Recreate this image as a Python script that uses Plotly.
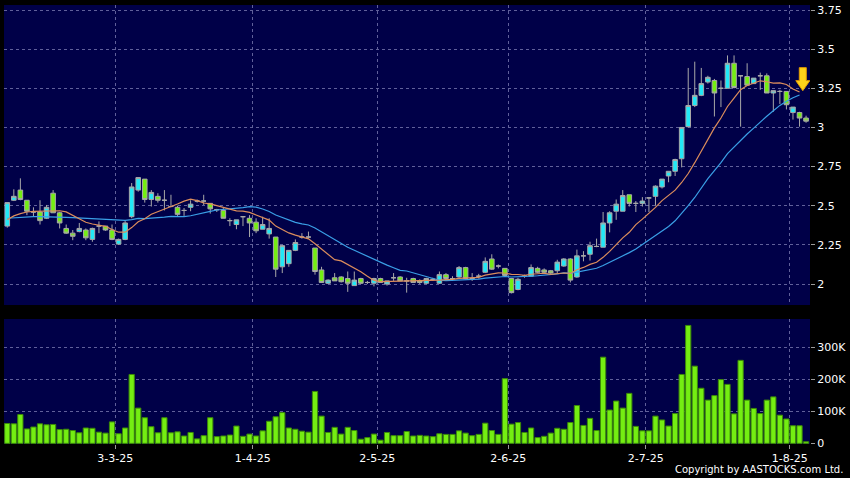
import numpy as np
import pandas as pd
import plotly.graph_objects as go
from plotly.subplots import make_subplots

# ---------------- data ----------------
hk_holidays = ["2025-04-04", "2025-04-18", "2025-04-21", "2025-05-01", "2025-05-05", "2025-07-01"]
dates = pd.bdate_range("2025-02-06", "2025-08-05", freq="C", holidays=hk_holidays)

open_ = [2.37, 2.535, 2.60, 2.535, 2.46, 2.46, 2.42, 2.58, 2.455, 2.355,
         2.325, 2.335, 2.345, 2.285, 2.37, 2.37, 2.345, 2.255, 2.285, 2.43,
         2.60, 2.67, 2.54, 2.56, 2.535, 2.495, 2.49, 2.47, 2.49, 2.53,
         2.53, 2.515, 2.475, 2.47, 2.405, 2.38, 2.43, 2.42, 2.395, 2.35,
         2.32, 2.30, 2.11, 2.13, 2.215, 2.30, 2.30, 2.23, 2.09, 2.005,
         2.04, 2.045, 2.035, 1.99, 2.035, 2.01, 2.005, 2.035, 2.0, 2.04,
         2.045, 2.02, 2.035, 2.02, 2.005, 2.03, 2.005, 2.06, 2.035, 2.045,
         2.105, 2.035, 2.05, 2.075, 2.16, 2.115, 2.10, 2.035, 1.965, 2.05,
         2.05, 2.10, 2.09, 2.085, 2.085, 2.115, 2.16, 2.045, 2.18, 2.19,
         2.24, 2.235, 2.39, 2.465, 2.465, 2.57, 2.515, 2.515, 2.55, 2.56,
         2.62, 2.69, 2.72, 2.80, 3.005, 3.14, 3.205, 3.29, 3.30, 3.25,
         3.25, 3.41, 3.33, 3.325, 3.28, 3.33, 3.33, 3.22, 3.23, 3.23,
         3.095, 3.095, 3.06]
high = [2.52, 2.605, 2.675, 2.535, 2.49, 2.535, 2.505, 2.60, 2.46, 2.38,
        2.345, 2.39, 2.355, 2.36, 2.40, 2.37, 2.38, 2.29, 2.405, 2.645,
        2.68, 2.67, 2.60, 2.58, 2.60, 2.57, 2.50, 2.485, 2.535, 2.54,
        2.57, 2.515, 2.48, 2.485, 2.42, 2.41, 2.43, 2.44, 2.42, 2.43,
        2.42, 2.30, 2.25, 2.215, 2.285, 2.325, 2.335, 2.23, 2.11, 2.03,
        2.07, 2.05, 2.08, 2.08, 2.04, 2.02, 2.04, 2.04, 2.02, 2.07,
        2.05, 2.04, 2.04, 2.03, 2.04, 2.04, 2.08, 2.07, 2.05, 2.115,
        2.11, 2.07, 2.065, 2.17, 2.19, 2.125, 2.10, 2.035, 2.04, 2.06,
        2.125, 2.11, 2.10, 2.09, 2.155, 2.165, 2.165, 2.22, 2.21, 2.27,
        2.29, 2.46, 2.465, 2.54, 2.60, 2.57, 2.53, 2.555, 2.55, 2.63,
        2.67, 2.72, 2.80, 3.0, 3.38, 3.42, 3.38, 3.33, 3.31, 3.30,
        3.46, 3.46, 3.33, 3.41, 3.315, 3.35, 3.345, 3.235, 3.24, 3.23,
        3.13, 3.10, 3.075]
low = [2.36, 2.53, 2.535, 2.44, 2.43, 2.38, 2.415, 2.455, 2.355, 2.32,
       2.28, 2.33, 2.28, 2.27, 2.325, 2.34, 2.28, 2.25, 2.28, 2.42,
       2.59, 2.52, 2.495, 2.52, 2.47, 2.49, 2.435, 2.435, 2.465, 2.52,
       2.505, 2.45, 2.46, 2.42, 2.37, 2.35, 2.37, 2.30, 2.325, 2.35,
       2.29, 2.045, 2.07, 2.11, 2.21, 2.29, 2.29, 2.06, 2.01, 2.0,
       2.02, 2.01, 1.95, 1.99, 2.0, 2.0, 1.985, 2.01, 1.99, 2.02,
       2.02, 1.945, 2.01, 2.0, 2.0, 2.02, 2.0, 2.035, 2.02, 2.04,
       2.03, 2.02, 2.035, 2.07, 2.09, 2.10, 2.05, 1.94, 1.96, 2.04,
       2.05, 2.07, 2.07, 2.06, 2.07, 2.11, 2.01, 2.04, 2.145, 2.15,
       2.235, 2.235, 2.33, 2.41, 2.465, 2.495, 2.46, 2.495, 2.46, 2.50,
       2.61, 2.65, 2.69, 2.745, 3.0, 3.13, 3.20, 3.28, 3.07, 3.13,
       3.25, 3.25, 3.005, 3.27, 3.28, 3.24, 3.22, 3.10, 3.15, 3.115,
       3.05, 3.005, 3.03]
close = [2.52, 2.56, 2.54, 2.465, 2.46, 2.405, 2.49, 2.455, 2.39, 2.325,
         2.305, 2.355, 2.295, 2.355, 2.37, 2.345, 2.285, 2.285, 2.39, 2.62,
         2.68, 2.54, 2.585, 2.535, 2.535, 2.495, 2.445, 2.47, 2.51, 2.53,
         2.53, 2.48, 2.475, 2.42, 2.405, 2.41, 2.43, 2.39, 2.34, 2.38,
         2.355, 2.095, 2.245, 2.215, 2.265, 2.30, 2.30, 2.08, 2.01, 2.025,
         2.02, 2.015, 2.005, 2.025, 2.005, 2.01, 2.035, 2.01, 2.02, 2.04,
         2.02, 2.02, 2.01, 2.01, 2.035, 2.03, 2.06, 2.035, 2.035, 2.105,
         2.035, 2.035, 2.05, 2.145, 2.095, 2.115, 2.055, 1.945, 2.03, 2.05,
         2.105, 2.075, 2.075, 2.07, 2.14, 2.16, 2.025, 2.18, 2.18, 2.245,
         2.24, 2.39, 2.455, 2.51, 2.565, 2.515, 2.515, 2.53, 2.55, 2.625,
         2.67, 2.72, 2.795, 3.0, 3.14, 3.205, 3.28, 3.32, 3.22, 3.25,
         3.41, 3.255, 3.33, 3.27, 3.315, 3.33, 3.22, 3.235, 3.23, 3.145,
         3.13, 3.06, 3.04]
volume_k = [62, 61, 90, 45, 51, 61, 58, 59, 43, 44,
            40, 33, 48, 47, 35, 32, 67, 30, 48, 215,
            110, 80, 52, 33, 80, 33, 36, 23, 34, 14,
            24, 80, 21, 23, 26, 54, 22, 29, 23, 39,
            69, 83, 96, 48, 44, 38, 35, 162, 85, 34,
            50, 29, 50, 40, 13, 18, 29, 10, 34, 24,
            24, 37, 23, 25, 23, 21, 30, 28, 28, 39,
            32, 24, 28, 63, 40, 28, 202, 60, 65, 34,
            48, 18, 22, 32, 47, 44, 65, 118, 56, 78,
            40, 269, 104, 132, 110, 156, 53, 39, 39, 85,
            73, 54, 93, 215, 368, 241, 172, 135, 149, 199,
            184, 92, 259, 135, 109, 93, 135, 145, 88, 76,
            55, 55, 5]
# moving-average values at the left edge (their window starts before the chart)
ma10_head = [2.41, 2.435, 2.45, 2.46, 2.464, 2.464, 2.465, 2.468, 2.468]
ma20_head = [2.42, 2.423, 2.425, 2.428, 2.43, 2.43, 2.43, 2.43, 2.428, 2.426,
             2.424, 2.422, 2.42, 2.418, 2.415, 2.413, 2.41, 2.408, 2.406]
tick_dates = ["2025-03-03", "2025-04-01", "2025-05-02", "2025-06-02", "2025-07-02", "2025-08-01"]
tick_text = ["3-3-25", "1-4-25", "2-5-25", "2-6-25", "2-7-25", "1-8-25"]
vol_tickvals = [0, 100000, 200000, 300000]
vol_ticktext = ["0", "100K", "200K", "300K"]
price_tickvals = [2, 2.25, 2.5, 2.75, 3, 3.25, 3.5, 3.75]
price_ticktext = ["2", "2.25", "2.5", "2.75", "3", "3.25", "3.5", "3.75"]

# ---------------- derived ----------------
n = len(dates)
x = np.arange(n)
closes = pd.Series(close)
ma10 = closes.rolling(10).mean().to_numpy()
ma20 = closes.rolling(20).mean().to_numpy()
ma10[:9] = ma10_head
ma20[:19] = ma20_head
ma_n = n - 1  # averages stop at the previous session
date_pos = {d.strftime("%Y-%m-%d"): i for i, d in enumerate(dates)}
xtick_pos = [date_pos[d] - 0.5 for d in tick_dates]
volume = [v * 1000 for v in volume_k]

# ---------------- styles ----------------
BG = "#000048"
GRID = "#60609a"
CYAN = "#22e8f6"
GREEN = "#74ee12"
WICK = "#a8a8a8"
FONT = dict(family="DejaVu Sans", size=11, color="#ffffff")

fig = make_subplots(rows=2, cols=1, shared_xaxes=True)

fig.add_trace(go.Candlestick(
    x=x, open=open_, high=high, low=low, close=close,
    increasing=dict(fillcolor=CYAN, line=dict(color=WICK, width=1)),
    decreasing=dict(fillcolor=GREEN, line=dict(color=WICK, width=1)),
    whiskerwidth=0, hoverinfo="skip", showlegend=False), row=1, col=1)
fig.add_trace(go.Scatter(x=x[:ma_n], y=ma20[:ma_n], mode="lines",
                         line=dict(color="#3a9fe6", width=1.2), hoverinfo="skip",
                         showlegend=False), row=1, col=1)
fig.add_trace(go.Scatter(x=x[:ma_n], y=ma10[:ma_n], mode="lines",
                         line=dict(color="#dc8d5c", width=1.2), hoverinfo="skip",
                         showlegend=False), row=1, col=1)
fig.add_trace(go.Bar(x=x, y=volume, marker=dict(color=GREEN, line=dict(color="#3c8a08", width=1)),
                     hoverinfo="skip", showlegend=False), row=2, col=1)

# yellow arrow marker (pixel-sized shape)
fig.add_shape(type="path", xref="x", yref="y", xsizemode="pixel", ysizemode="pixel",
              xanchor=n - 1.5, yanchor=3.235,
              path="M 0 0 L -7 10 L -3.5 10 L -3.5 23 L 3.5 23 L 3.5 10 L 7 10 Z",
              fillcolor="#ffd21a", line=dict(color="#e39a00", width=1), layer="above")

axis_common = dict(showline=False, zeroline=False, gridcolor=GRID, griddash="3px,3px",
                   gridwidth=1, tickfont=FONT, ticks="outside", ticklen=4,
                   tickcolor="#9a9a9a", tickwidth=1)

fig.update_xaxes(**axis_common, range=[-0.5, n - 0.4], tickmode="array",
                 tickvals=xtick_pos, ticktext=tick_text, rangeslider=dict(visible=False))
fig.update_xaxes(showticklabels=False, ticks="", row=1, col=1)
fig.update_yaxes(**axis_common, side="right")
fig.update_yaxes(range=[1.866, 3.782], tickmode="array", tickvals=price_tickvals,
                 ticktext=price_ticktext, domain=[0.3166, 1.0], row=1, col=1)
fig.update_yaxes(range=[-2000, 388000], tickmode="array", tickvals=vol_tickvals,
                 ticktext=vol_ticktext, domain=[0.0, 0.2847], row=2, col=1)

fig.add_annotation(text="Copyright by AASTOCKS.com Ltd.", xref="paper", yref="paper",
                   x=1.0435, y=-0.059, xanchor="right", yanchor="middle", showarrow=False,
                   font=dict(family="DejaVu Sans", size=10, color="#ffffff"))

fig.update_layout(width=850, height=478, margin=dict(l=4, r=40, t=5, b=34),
                  paper_bgcolor="#000000", plot_bgcolor=BG, bargap=0.2, boxgap=0.0,
                  showlegend=False, font=FONT, hovermode=False)

fig.write_html("out.html", config={"displayModeBar": False, "staticPlot": True},
               post_script="document.body.style.margin='0px';document.body.style.background='#000';")
